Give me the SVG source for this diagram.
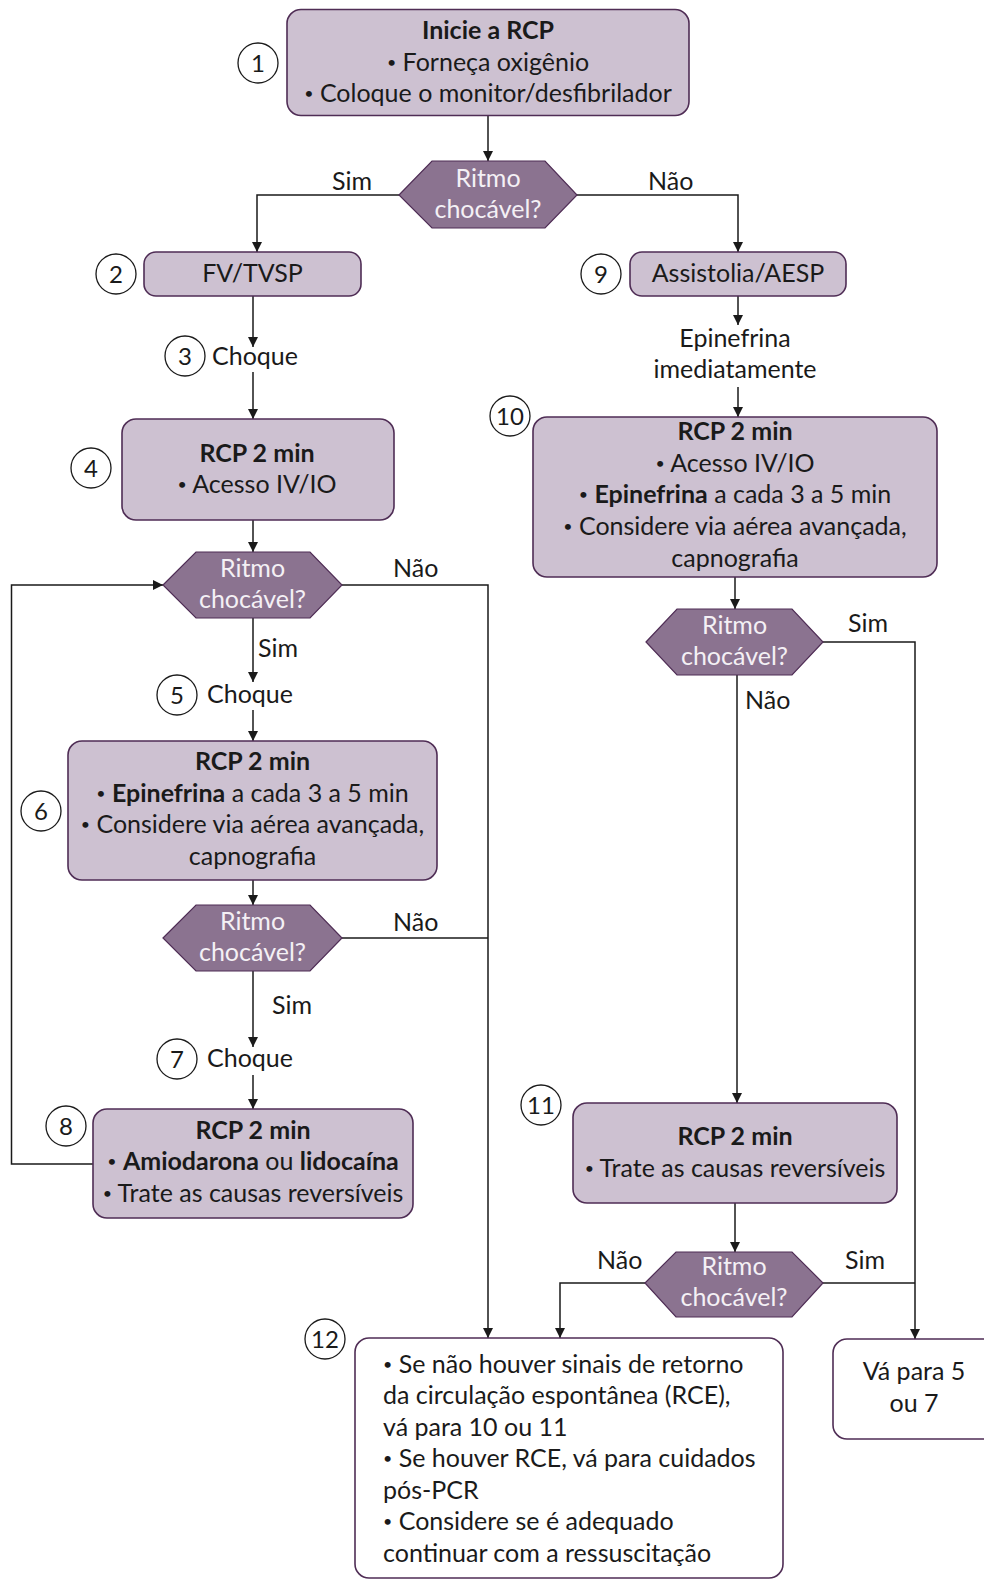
<svg xmlns="http://www.w3.org/2000/svg" width="984" height="1581" viewBox="0 0 984 1581">
<defs>
<marker id="ah" viewBox="0 0 10 10" refX="10" refY="5" markerWidth="10" markerHeight="10" markerUnits="userSpaceOnUse" orient="auto">
<path d="M0,0 L10,5 L0,10 Z" fill="#1a1a1a"/>
</marker>
<style>
text{font-family:Lato,"Liberation Sans",sans-serif;font-size:25px;fill:#1a1a1a}
.c{text-anchor:middle}
.b{font-weight:bold}
.bl{font-size:16px;font-weight:normal;baseline-shift:3px}
.box{fill:#cdc1d1;stroke:#4f2d55;stroke-width:1.6}
.wbox{fill:#ffffff;stroke:#4f2d55;stroke-width:1.6}
.hex{fill:#8b7390;stroke:#4f2d55;stroke-width:1.2}
.ht{fill:#f4f0f5;text-anchor:middle}
.num{fill:#ffffff;stroke:#1a1a1a;stroke-width:1.3}
.nt{text-anchor:middle;font-size:24px}
.ln{fill:none;stroke:#1a1a1a;stroke-width:1.5}
.ar{marker-end:url(#ah)}
</style>
</defs>
<rect width="984" height="1581" fill="#ffffff"/>

<g id="connectors">
<path class="ln ar" d="M488 116 V161"/>
<path class="ln ar" d="M399 195 H257 V252"/>
<path class="ln ar" d="M577 195 H738 V252"/>
<path class="ln ar" d="M253 296 V347"/>
<path class="ln ar" d="M253 372 V419"/>
<path class="ln ar" d="M253 520 V552"/>
<path class="ln ar" d="M253 618 V682"/>
<path class="ln ar" d="M253 710 V741"/>
<path class="ln ar" d="M253 880 V905"/>
<path class="ln ar" d="M253 971 V1047"/>
<path class="ln ar" d="M253 1075 V1109"/>
<path class="ln ar" d="M93 1164 H11.5 V585 H163"/>
<path class="ln ar" d="M342 585 H488 V1338"/>
<path class="ln" d="M342 938 H488"/>
<path class="ln ar" d="M738 296 V325"/>
<path class="ln ar" d="M738 387 V417"/>
<path class="ln ar" d="M735 577 V609"/>
<path class="ln ar" d="M737 675 V1103"/>
<path class="ln ar" d="M823 642 H915 V1339"/>
<path class="ln ar" d="M735 1203 V1252"/>
<path class="ln ar" d="M645 1283 H560 V1338"/>
<path class="ln" d="M823 1283 H915"/>
<text x="332" y="190">Sim</text>
<text x="648" y="190">Não</text>
<text x="393" y="577">Não</text>
<text x="258" y="657">Sim</text>
<text x="393" y="931">Não</text>
<text x="272" y="1014">Sim</text>
<text x="848" y="632">Sim</text>
<text x="745" y="709">Não</text>
<text x="597" y="1269">Não</text>
<text x="845" y="1269">Sim</text>
</g>

<g id="n1">
<rect class="box" x="287" y="9.5" width="402" height="106" rx="14"/>
<text class="c b" x="488" y="39">Inicie a RCP</text>
<text class="c" x="488" y="71"><tspan class="bl">•</tspan> Forneça oxigênio</text>
<text class="c" x="488" y="102"><tspan class="bl">•</tspan> Coloque o monitor/desfibrilador</text>
<circle class="num" cx="258" cy="63" r="20"/>
<text class="nt" x="258" y="71.5">1</text>
</g>

<g id="d1">
<polygon class="hex" points="399,195 432,161 545,161 577,195 545,228 432,228"/>
<text class="ht" x="488" y="187">Ritmo</text>
<text class="ht" x="488" y="218">chocável?</text>
</g>

<g id="n2">
<rect class="box" x="144" y="252" width="217" height="44" rx="12"/>
<text class="c" x="252.5" y="282">FV/TVSP</text>
<circle class="num" cx="116" cy="274" r="20"/>
<text class="nt" x="116" y="282.5">2</text>
</g>

<g id="n3">
<circle class="num" cx="185" cy="356" r="20"/>
<text class="nt" x="185" y="364.5">3</text>
<text x="212" y="365">Choque</text>
</g>

<g id="n4">
<rect class="box" x="122" y="419" width="272" height="101" rx="14"/>
<text class="c b" x="257" y="462">RCP 2 min</text>
<text class="c" x="257" y="493"><tspan class="bl">•</tspan> Acesso IV/IO</text>
<circle class="num" cx="91" cy="468" r="20"/>
<text class="nt" x="91" y="476.5">4</text>
</g>

<g id="d2">
<polygon class="hex" points="163,585 196,552 310,552 342,585 310,618 196,618"/>
<text class="ht" x="252.5" y="577">Ritmo</text>
<text class="ht" x="252.5" y="608">chocável?</text>
</g>

<g id="n5">
<circle class="num" cx="177" cy="695" r="20"/>
<text class="nt" x="177" y="703.5">5</text>
<text x="207" y="703">Choque</text>
</g>

<g id="n6">
<rect class="box" x="68" y="741" width="369" height="139" rx="14"/>
<text class="c b" x="252.5" y="770">RCP 2 min</text>
<text class="c" x="252.5" y="802"><tspan class="bl">•</tspan> <tspan class="b">Epinefrina</tspan> a cada 3 a 5 min</text>
<text class="c" x="252.5" y="833"><tspan class="bl">•</tspan> Considere via aérea avançada,</text>
<text class="c" x="252.5" y="865">capnografia</text>
<circle class="num" cx="41" cy="811" r="20"/>
<text class="nt" x="41" y="819.5">6</text>
</g>

<g id="d3">
<polygon class="hex" points="163,938 196,905 310,905 342,938 310,971 196,971"/>
<text class="ht" x="252.5" y="930">Ritmo</text>
<text class="ht" x="252.5" y="961">chocável?</text>
</g>

<g id="n7">
<circle class="num" cx="177" cy="1059" r="20"/>
<text class="nt" x="177" y="1067.5">7</text>
<text x="207" y="1067">Choque</text>
</g>

<g id="n8">
<rect class="box" x="93" y="1109" width="320" height="109" rx="14"/>
<text class="c b" x="253" y="1139">RCP 2 min</text>
<text class="c" x="253" y="1170"><tspan class="bl">•</tspan> <tspan class="b">Amiodarona</tspan> ou <tspan class="b">lidocaína</tspan></text>
<text class="c" x="253" y="1202"><tspan class="bl">•</tspan> Trate as causas reversíveis</text>
<circle class="num" cx="66" cy="1126" r="20"/>
<text class="nt" x="66" y="1134.5">8</text>
</g>

<g id="n9">
<rect class="box" x="630" y="252" width="216" height="44" rx="12"/>
<text class="c" x="738" y="282">Assistolia/AESP</text>
<circle class="num" cx="601" cy="274" r="20"/>
<text class="nt" x="601" y="282.5">9</text>
</g>

<g id="epi">
<text class="c" x="735" y="347">Epinefrina</text>
<text class="c" x="735" y="378">imediatamente</text>
</g>

<g id="n10">
<rect class="box" x="533" y="417" width="404" height="160" rx="14"/>
<text class="c b" x="735" y="440">RCP 2 min</text>
<text class="c" x="735" y="472"><tspan class="bl">•</tspan> Acesso IV/IO</text>
<text class="c" x="735" y="503"><tspan class="bl">•</tspan> <tspan class="b">Epinefrina</tspan> a cada 3 a 5 min</text>
<text class="c" x="735" y="535"><tspan class="bl">•</tspan> Considere via aérea avançada,</text>
<text class="c" x="735" y="567">capnografia</text>
<circle class="num" cx="510" cy="416" r="20"/>
<text class="nt" x="510" y="424.5">10</text>
</g>

<g id="d4">
<polygon class="hex" points="646,642 677,609 792,609 823,642 792,675 677,675"/>
<text class="ht" x="734.5" y="634">Ritmo</text>
<text class="ht" x="734.5" y="665">chocável?</text>
</g>

<g id="n11">
<rect class="box" x="573" y="1103" width="324" height="100" rx="14"/>
<text class="c b" x="735" y="1145">RCP 2 min</text>
<text class="c" x="735" y="1177"><tspan class="bl">•</tspan> Trate as causas reversíveis</text>
<circle class="num" cx="541" cy="1105" r="20"/>
<text class="nt" x="541" y="1113.5">11</text>
</g>

<g id="d5">
<polygon class="hex" points="645,1283 676,1252 792,1252 823,1283 792,1317 676,1317"/>
<text class="ht" x="734" y="1275">Ritmo</text>
<text class="ht" x="734" y="1306">chocável?</text>
</g>

<g id="n12">
<rect class="wbox" x="355" y="1338" width="428" height="240" rx="14"/>
<text x="383" y="1373"><tspan class="bl">•</tspan> Se não houver sinais de retorno</text>
<text x="383" y="1404">da circulação espontânea (RCE),</text>
<text x="383" y="1436">vá para 10 ou 11</text>
<text x="383" y="1467"><tspan class="bl">•</tspan> Se houver RCE, vá para cuidados</text>
<text x="383" y="1499">pós-PCR</text>
<text x="383" y="1530"><tspan class="bl">•</tspan> Considere se é adequado</text>
<text x="383" y="1562">continuar com a ressuscitação</text>
<circle class="num" cx="325" cy="1339" r="20"/>
<text class="nt" x="325" y="1347.5">12</text>
</g>

<g id="n13">
<rect class="wbox" x="833" y="1339" width="164" height="100" rx="14"/>
<text class="c" x="914" y="1380">Vá para 5</text>
<text class="c" x="914" y="1412">ou 7</text>
</g>
</svg>
